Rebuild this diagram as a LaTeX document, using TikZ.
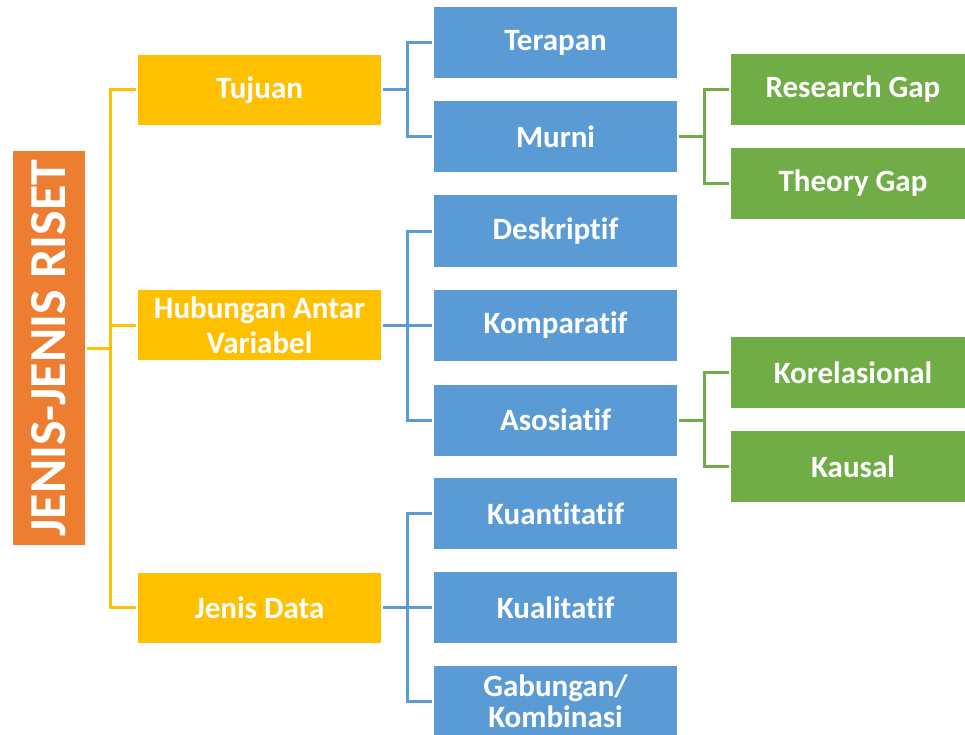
\documentclass[tikz,border=0pt]{standalone}
\usepackage{fontspec}
\setmainfont{Carlito}[Ligatures={NoCommon}]
\definecolor{rootorange}{HTML}{ED7D31}
\definecolor{catyellow}{HTML}{FFC000}
\definecolor{subblue}{HTML}{5B9BD5}
\definecolor{gapgreen}{HTML}{70AD47}
\begin{document}
\begin{tikzpicture}[
			x=1pt, y=-1pt,
			every node/.style={text=white, align=center, inner sep=0pt, outer sep=2pt, font=\bfseries\fontsize{31}{35}\selectfont},
			rootbox/.style={fill=rootorange, minimum width=393, minimum height=72, rotate=90, font=\bfseries\fontsize{52}{60}\selectfont},
			catbox/.style={fill=catyellow, minimum width=243, minimum height=70},
			subbox/.style={fill=subblue, minimum width=243, minimum height=71},
			gapbox/.style={fill=gapgreen, minimum width=244, minimum height=71},
			yline/.style={draw=catyellow, line width=3pt},
			bline/.style={draw=subblue, line width=3pt},
			gline/.style={draw=gapgreen, line width=3pt}
			]
			\useasboundingbox (0,0) rectangle (965,735);
			% Root
			\node[rootbox] (riset) at (49,348) {JENIS-JENIS RISET};
			
			% Categories
			\node[catbox] (tujuan) at (259.5,90) {Tujuan};
			\node[catbox] (hubungan) at (259.5,325) {Hubungan Antar\\Variabel};
			\node[catbox] (jenisdata) at (259.5,607.5) {Jenis Data};
			
			% Sub types
			\node[subbox] (terapan) at (555.5,42.5) {Terapan};
			\node[subbox] (murni) at (555.5,136.5) {Murni};
			\node[subbox] (deskriptif) at (555.5,231) {Deskriptif};
			\node[subbox] (komparatif) at (555.5,325) {Komparatif};
			\node[subbox] (asosiatif) at (555.5,420) {Asosiatif};
			\node[subbox] (kuantitatif) at (555.5,513.5) {Kuantitatif};
			\node[subbox] (kualitatif) at (555.5,607.5) {Kualitatif};
			\node[subbox] (gabungan) at (555.5,701.5) {Gabungan/\\[-4pt]Kombinasi};
			
			% Gaps and relations
			\node[gapbox] (researchgap) at (853,89.5) {Research Gap};
			\node[gapbox] (theorygap) at (853,183.5) {Theory Gap};
			\node[gapbox] (korelasional) at (853,372.5) {Korelasional};
			\node[gapbox] (kausal) at (853,466.5) {Kausal};
			
			% Connectors
			\draw[yline] (riset.south) -- ++(23,0) |- (tujuan.west);
			\draw[yline] (riset.south) -- ++(23,0) |- (hubungan.west);
			\draw[yline] (riset.south) -- ++(23,0) |- (jenisdata.west);
			
			\draw[bline] (tujuan.east) -- ++(24,0) |- (terapan.west);
			\draw[bline] (tujuan.east) -- ++(24,0) |- (murni.west);
			\draw[bline] (hubungan.east) -- ++(24,0) |- (deskriptif.west);
			\draw[bline] (hubungan.east) -- ++(24,0) |- (komparatif.west);
			\draw[bline] (hubungan.east) -- ++(24,0) |- (asosiatif.west);
			\draw[bline] (jenisdata.east) -- ++(24,0) |- (kuantitatif.west);
			\draw[bline] (jenisdata.east) -- ++(24,0) |- (kualitatif.west);
			\draw[bline] (jenisdata.east) -- ++(24,0) |- (gabungan.west);
			
			\draw[gline] (murni.east) -- ++(25,0) |- (researchgap.west);
			\draw[gline] (murni.east) -- ++(25,0) |- (theorygap.west);
			\draw[gline] (asosiatif.east) -- ++(25,0) |- (korelasional.west);
			\draw[gline] (asosiatif.east) -- ++(25,0) |- (kausal.west);
		\end{tikzpicture}
\end{document}
